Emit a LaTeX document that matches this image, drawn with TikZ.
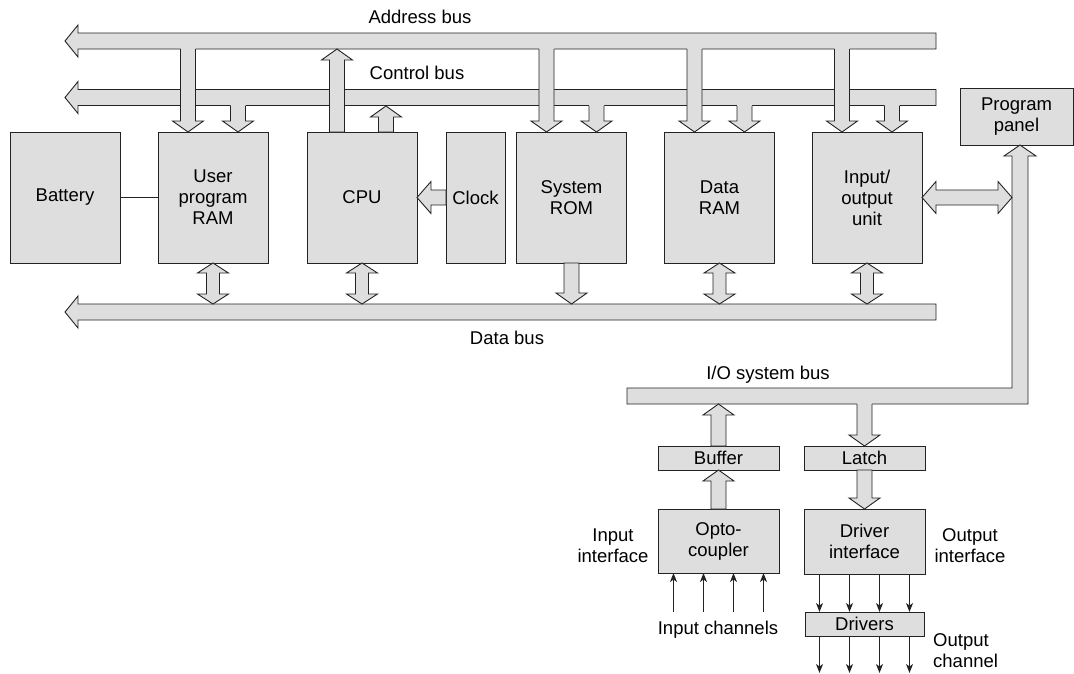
\documentclass[tikz,border=0pt]{standalone}
\usepackage{fontspec}
\setmainfont{Liberation Sans}
\usetikzlibrary{arrows.meta,calc}
\definecolor{unitgray}{RGB}{222,222,222}
\definecolor{inkgray}{RGB}{35,35,35}
\tikzset{
  hwbox/.style={draw=inkgray, fill=unitgray, line width=0.9pt, inner sep=0pt, outer sep=0pt, align=center},
  blk/.style={draw=inkgray, fill=unitgray, line width=0.9pt},
  rim/.style={draw=inkgray, line width=0.9pt},
  sigline/.style={draw=inkgray, line width=1.1pt, -{Stealth[length=9pt,width=7pt,inset=2.5pt]}},
  lbl/.style={align=center, inner sep=0pt}
}
% bus running left with an open arrow head
\newcommand{\leftbus}[1]{\draw[blk] (65,#1) -- (78,#1-16) -- (78,#1-8) -- (936,#1-8) -- (936,#1+8) -- (78,#1+8) -- (78,#1+16) -- cycle;}
% vertical block arrow from #1 to #2
\newcommand{\blkarrow}[2]{\draw[blk] let \p1=(#1), \p2=(#2), \n1={11*sign(\y2-\y1)} in
  ({\x1-7.5pt},\y1) -- ({\x1-7.5pt},{\y2-(\n1)*1pt}) -- ({\x1-15.5pt},{\y2-(\n1)*1pt}) -- (\x1,\y2) -- ({\x1+15.5pt},{\y2-(\n1)*1pt}) -- ({\x1+7.5pt},{\y2-(\n1)*1pt}) -- ({\x1+7.5pt},\y1) -- cycle;}
% vertical double block arrow
\newcommand{\dblarrow}[2]{\draw[blk] let \p1=(#1), \p2=(#2), \n1={10*sign(\y2-\y1)} in
  (\p1) -- ({\x1+15.5pt},{\y1+(\n1)*1pt}) -- ({\x1+6.5pt},{\y1+(\n1)*1pt}) -- ({\x1+6.5pt},{\y2-(\n1)*1pt}) -- ({\x1+15.5pt},{\y2-(\n1)*1pt}) -- (\x1,\y2) -- ({\x1-15.5pt},{\y2-(\n1)*1pt}) -- ({\x1-6.5pt},{\y2-(\n1)*1pt}) -- ({\x1-6.5pt},{\y1+(\n1)*1pt}) -- ({\x1-15.5pt},{\y1+(\n1)*1pt}) -- cycle;}
% branch leaving bus #2 through its edge #3, tip at #1
\newcommand{\busdrop}[3]{%
  \fill[unitgray] let \p1=(#1), \p2=(#2) in
    ({\x1-7.5pt},\y2) -- ({\x1-7.5pt},{\y1+11pt}) -- ({\x1-15.5pt},{\y1+11pt}) -- (\p1) -- ({\x1+15.5pt},{\y1+11pt}) -- ({\x1+7.5pt},{\y1+11pt}) -- ({\x1+7.5pt},\y2) -- cycle;
  \draw[rim] let \p1=(#1), \p2=(#3) in
    ({\x1-7.5pt},\y2) -- ({\x1-7.5pt},{\y1+11pt}) -- ({\x1-15.5pt},{\y1+11pt}) -- (\p1) -- ({\x1+15.5pt},{\y1+11pt}) -- ({\x1+7.5pt},{\y1+11pt}) -- ({\x1+7.5pt},\y2);}
% horizontal block arrows
\newcommand{\hblkarrow}[2]{\draw[blk] let \p1=(#1), \p2=(#2), \n1={14*sign(\x2-\x1)} in
  (\x1,{\y1-7.5pt}) -- ({\x2-(\n1)*1pt},{\y1-7.5pt}) -- ({\x2-(\n1)*1pt},{\y1-16pt}) -- (\x2,\y1) -- ({\x2-(\n1)*1pt},{\y1+16pt}) -- ({\x2-(\n1)*1pt},{\y1+7.5pt}) -- (\x1,{\y1+7.5pt}) -- cycle;}
\newcommand{\hdblarrow}[2]{\draw[blk] let \p1=(#1), \p2=(#2), \n1={14*sign(\x2-\x1)} in
  (\p1) -- ({\x1+(\n1)*1pt},{\y1-16pt}) -- ({\x1+(\n1)*1pt},{\y1-7.5pt}) -- ({\x2-(\n1)*1pt},{\y1-7.5pt}) -- ({\x2-(\n1)*1pt},{\y1-16pt}) -- (\x2,\y1) -- ({\x2-(\n1)*1pt},{\y1+16pt}) -- ({\x2-(\n1)*1pt},{\y1+7.5pt}) -- ({\x1+(\n1)*1pt},{\y1+7.5pt}) -- ({\x1+(\n1)*1pt},{\y1+16pt}) -- cycle;}

\begin{document}
\begin{tikzpicture}[x=1pt, y=-1pt, font=\fontsize{18.5}{21}\selectfont]
\useasboundingbox (0,0) rectangle (1074,673);

\node[hwbox, minimum width=110, minimum height=131] (battery) at (65,197.5) {Battery};
\node[hwbox, minimum width=110, minimum height=131] (uram) at (213,197.5) {User\\program\\RAM};
\node[hwbox, minimum width=110, minimum height=131] (cpu) at (362,197.5) {CPU};
\node[hwbox, minimum width=59, minimum height=131] (clock) at (475.5,197.5) {Clock};
\node[hwbox, minimum width=110, minimum height=131] (rom) at (571.5,197.5) {System\\ROM};
\node[hwbox, minimum width=110, minimum height=131] (dram) at (719.5,197.5) {Data\\RAM};
\node[hwbox, minimum width=110, minimum height=131] (io) at (867,197.5) {Input/\\output\\unit};
\node[hwbox, minimum width=113, minimum height=57] (panel) at (1016.5,116.5) {Program\\panel};

\node[hwbox, minimum width=121, minimum height=24] (buffer) at (718.5,458) {Buffer};
\node[hwbox, minimum width=121, minimum height=24] (latch) at (864.5,458) {Latch};
\node[hwbox, minimum width=121, minimum height=64] (opto) at (718.5,541) {Opto-\\coupler};
\node[hwbox, minimum width=121, minimum height=65] (drvif) at (864.5,541.5) {Driver\\interface};
\node[hwbox, minimum width=119, minimum height=24] (drivers) at (864.5,624) {Drivers};

\node[lbl] (abuslbl) at (420,17) {Address bus};
\node[lbl] (cbuslbl) at (417,73) {Control bus};
\node[lbl] (dbuslbl) at (507,338) {Data bus};
\node[lbl] (iobuslbl) at (768,375) {I/O system bus};
\node[lbl] (inif) at (613,546) {Input\\interface};
\node[lbl] (outif) at (970,546) {Output\\interface};
\node[lbl] (inch) at (718,630) {Input channels};
\node[lbl, anchor=west, align=left] (outch) at (933,651) {Output\\channel};

\coordinate (abus) at (0,41);
\coordinate (abusbot) at (0,49);
\coordinate (cbus) at (0,97.5);
\coordinate (cbusbot) at (0,106);
\coordinate (dbustop) at (0,304);
\coordinate (iobus) at (0,396);
\coordinate (iobusbot) at (0,404);
\coordinate (iovert) at (1012,0);

\leftbus{41}
\leftbus{97.5}
\leftbus{312}
\draw[blk] (627,388) -- (1012,388) -- (1012,156) -- (1004,156) -- (1020,0 |- panel.south) -- (1036,156) -- (1028,156) -- (1028,404) -- (627,404) -- cycle;

\foreach \unitname in {uram,rom,dram,io} {
  \coordinate (\unitname A) at ($(\unitname.north)+(-25,0)$);
  \coordinate (\unitname C) at ($(\unitname.north)+(25,0)$);
  \busdrop{\unitname A}{abus}{abusbot}
  \busdrop{\unitname C}{cbus}{cbusbot}
}
\coordinate (cpuA) at ($(cpu.north)+(-25,0)$);
\coordinate (cpuC) at ($(cpu.north)+(24,0)$);
\blkarrow{cpuA}{cpuA |- abusbot}
\blkarrow{cpuC}{cpuC |- cbusbot}
\hblkarrow{clock.west}{cpu.east}
\draw[rim] (battery.east) -- (uram.west);

\foreach \unitname in {uram,cpu,dram,io}
  \dblarrow{\unitname.south}{\unitname.south |- dbustop};
\blkarrow{rom.south}{rom.south |- dbustop}
\hdblarrow{io.east}{io.east -| iovert}

\blkarrow{buffer.north}{buffer.north |- iobusbot}
\blkarrow{opto.north}{buffer.south}
\busdrop{latch.north}{iobus}{iobusbot}
\blkarrow{latch.south}{drvif.north}

\foreach \dx in {-45,-15,15,45} {
  \draw[sigline] ($(opto.south)+(\dx,39)$) -- ($(opto.south)+(\dx,0)$);
  \draw[sigline] ($(drvif.south)+(\dx,0)$) -- ($(drivers.north)+(\dx,0)$);
  \draw[sigline] ($(drivers.south)+(\dx,0)$) -- ($(drivers.south)+(\dx,37)$);
}
\end{tikzpicture}
\end{document}
